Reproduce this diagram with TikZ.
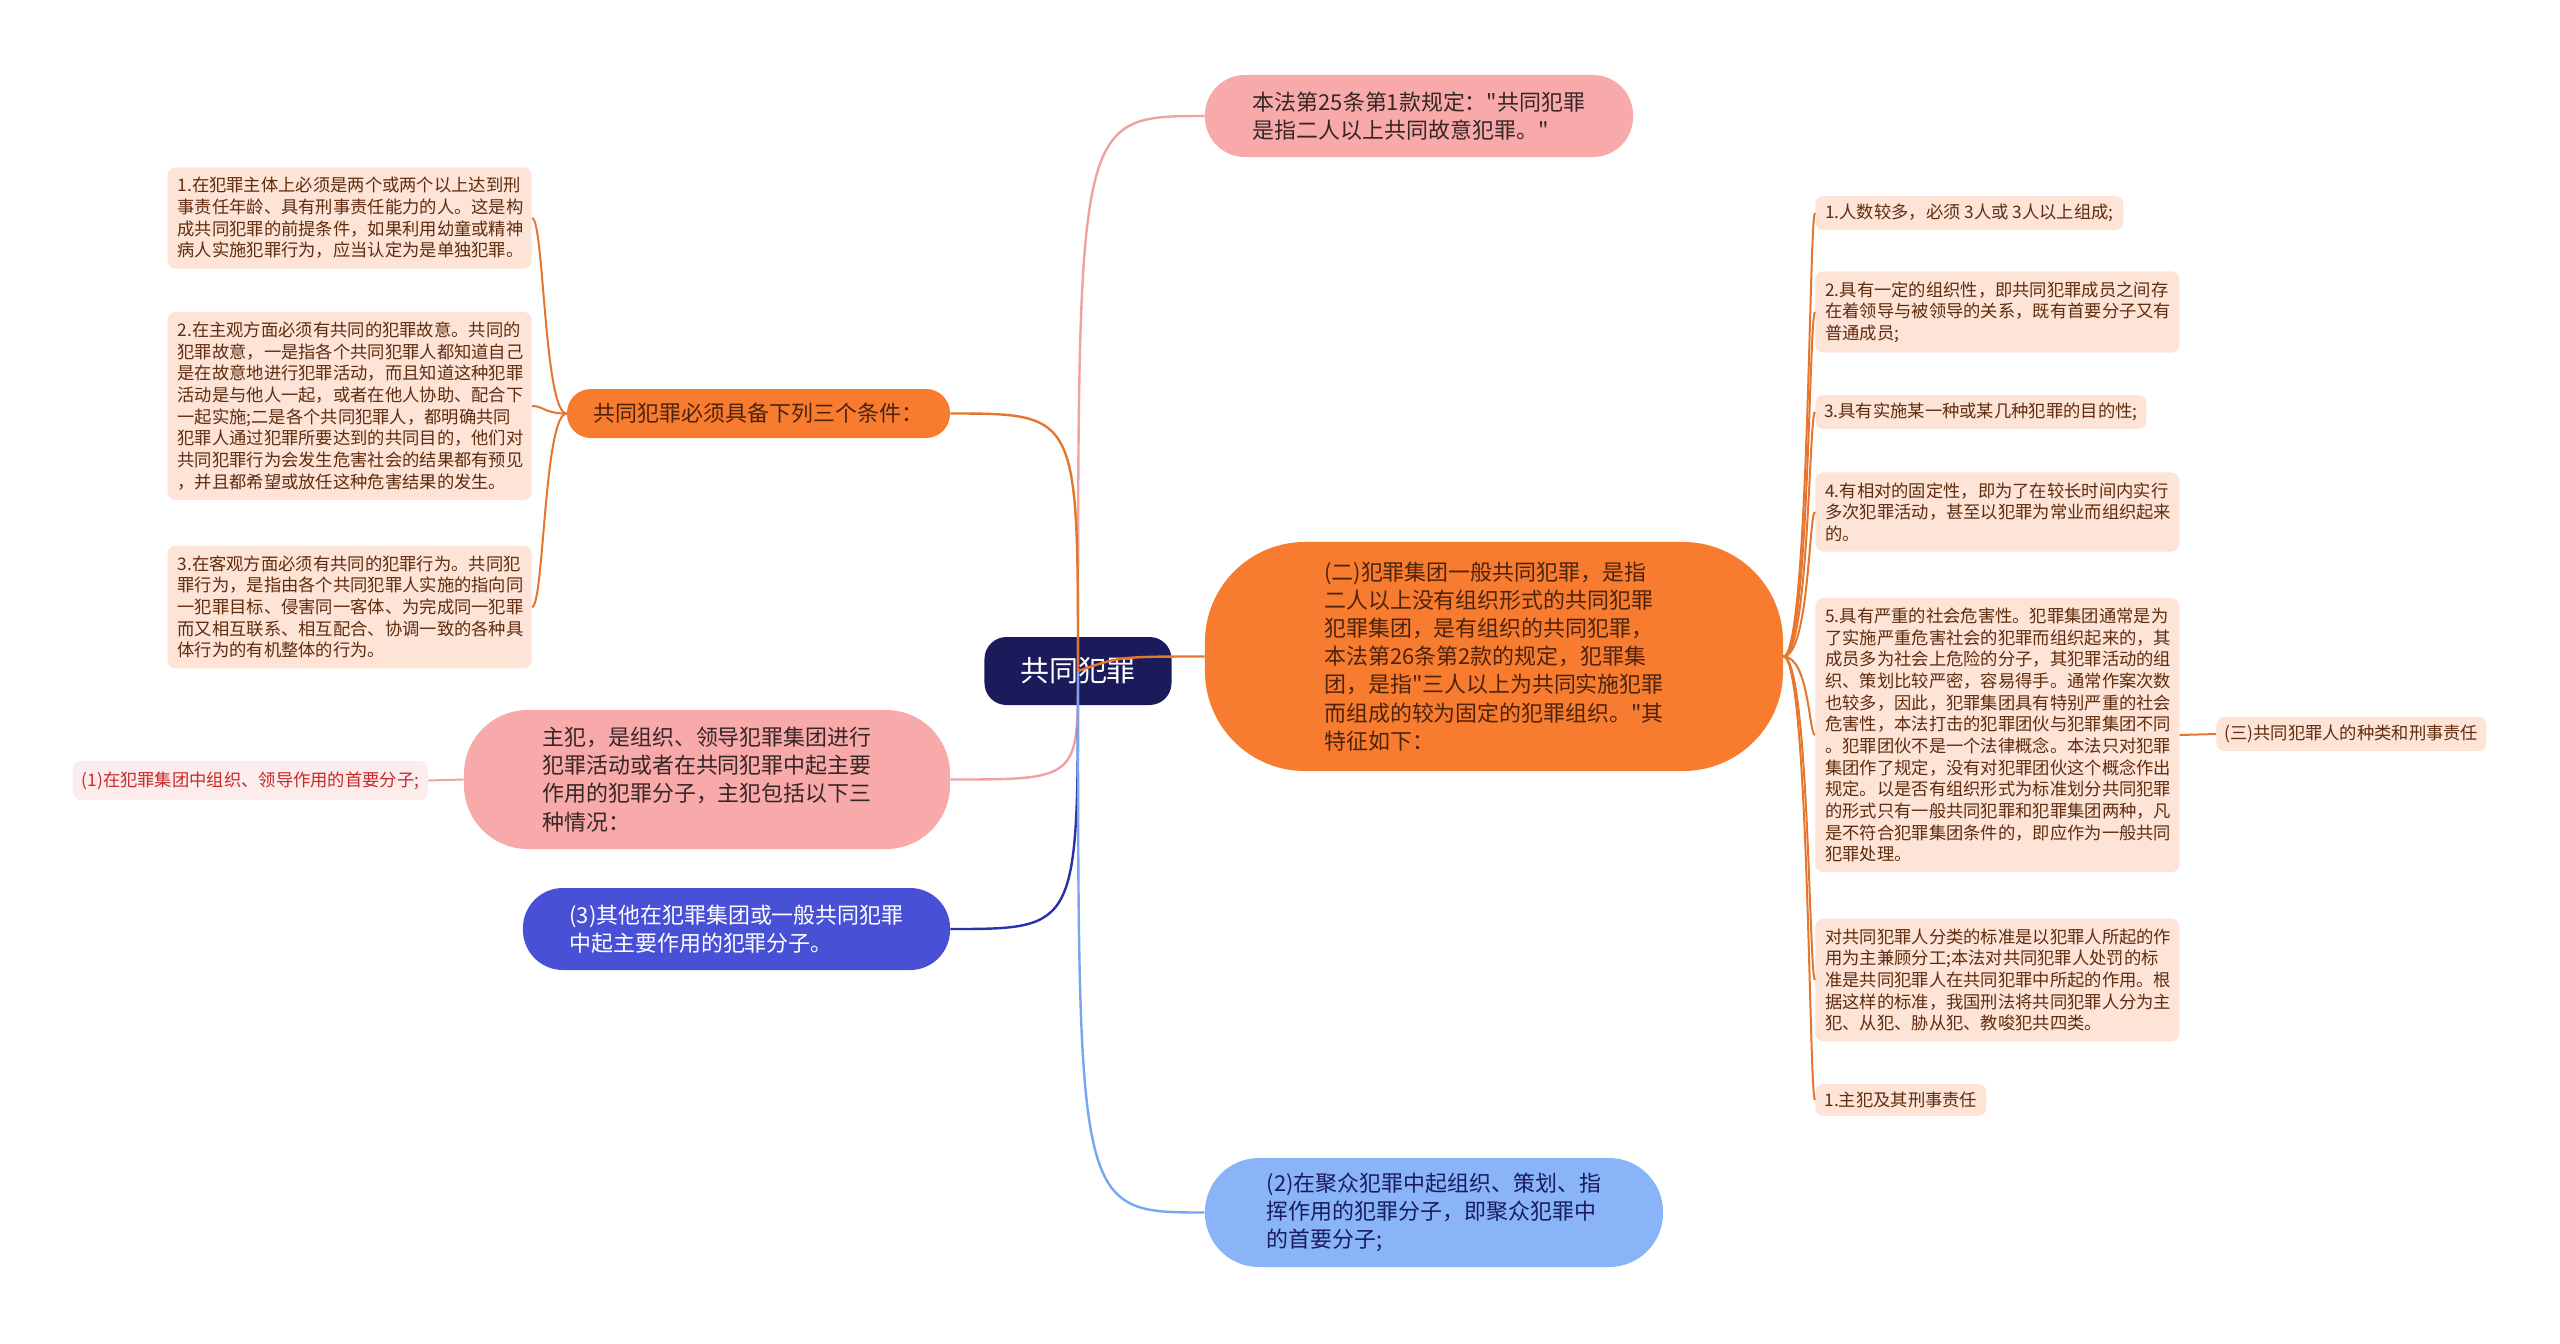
\documentclass[tikz,border=0pt]{standalone}
\usepackage{fontspec}
\setmainfont{Noto Sans CJK SC}[Ligatures=TeXOff]
\usepackage{tikz}
\usetikzlibrary{positioning}
\definecolor{mynavy}{RGB}{27,27,92}
\definecolor{mypink}{RGB}{248,170,170}
\definecolor{myorange}{RGB}{247,124,48}
\definecolor{mypeach}{RGB}{253,228,215}
\definecolor{mylpink}{RGB}{253,236,236}
\definecolor{myblue}{RGB}{72,80,214}
\definecolor{mylblue}{RGB}{138,180,248}
\definecolor{mybrown}{RGB}{96,44,14}
\definecolor{mydark}{RGB}{55,38,38}
\definecolor{myred}{RGB}{200,40,40}
\definecolor{lnpink}{RGB}{238,162,162}
\definecolor{lnorange}{RGB}{230,118,45}
\definecolor{lnblue}{RGB}{40,48,170}
\definecolor{lnlblue}{RGB}{120,165,240}
\tikzset{
  rootnode/.style={rectangle, fill=mynavy, text=white,
    font=\fontsize{20.6pt}{24pt}\selectfont, rounded corners=0.55cm,
    minimum width=4.675cm, minimum height=1.7cm, inner sep=0pt},
  bignode/.style={rectangle, align=left, inner sep=0pt,
    font=\fontsize{15.6pt}{20pt}\selectfont},
  leaf/.style={rectangle, fill=mypeach, text=mybrown, align=left,
    font=\fontsize{12.3pt}{15.4pt}\selectfont, rounded corners=0.2cm,
    inner sep=0.25cm},
  leafwide/.style={leaf, text width=8.6cm},
  mainline/.style={line width=0.06cm},
  subline/.style={line width=0.05cm, color=lnorange}
}
\begin{document}
\begin{tikzpicture}[x=0.025cm, y=-0.025cm]
  \useasboundingbox (0,0) rectangle (2560,1343);

  % Root
  \node[rootnode] (root) at (1078,671) {共同犯罪};

  % Main branches
  \node[bignode, fill=mypink, text=mydark, rounded corners=1cm,
    minimum width=10.7cm, minimum height=2.05cm] (law) at (1419,116)
    {本法第25条第1款规定："共同犯罪\\是指二人以上共同故意犯罪。"};
  \node[bignode, fill=myorange, text=mybrown!80!black, rounded corners=0.6cm,
    minimum width=9.575cm, minimum height=1.225cm] (cond) at (758.5,413.5)
    {共同犯罪必须具备下列三个条件：};
  \node[bignode, fill=mypink, text=mydark, rounded corners=1.6cm,
    minimum width=12.15cm, minimum height=3.475cm] (zf) at (707,779.5)
    {主犯，是组织、领导犯罪集团进行\\犯罪活动或者在共同犯罪中起主要\\作用的犯罪分子，主犯包括以下三\\种情况：};
  \node[bignode, fill=myblue, text=white, rounded corners=1cm,
    minimum width=10.675cm, minimum height=2.05cm] (qt) at (736.5,929)
    {(3)其他在犯罪集团或一般共同犯罪\\中起主要作用的犯罪分子。};
  \node[bignode, fill=mylblue, text=mynavy, rounded corners=1.35cm,
    minimum width=11.45cm, minimum height=2.725cm] (jz) at (1434,1212.5)
    {(2)在聚众犯罪中起组织、策划、指\\挥作用的犯罪分子，即聚众犯罪中\\的首要分子;};
  \node[bignode, fill=myorange, text=mybrown!80!black, rounded corners=2.5cm,
    minimum width=14.45cm, minimum height=5.725cm] (jt) at (1494,656.5)
    {(二)犯罪集团一般共同犯罪，是指\\二人以上没有组织形式的共同犯罪\\犯罪集团，是有组织的共同犯罪，\\本法第26条第2款的规定，犯罪集\\团，是指"三人以上为共同实施犯罪\\而组成的较为固定的犯罪组织。"其\\特征如下：};

  % Left leaves
  \node[leafwide, anchor=east] (l1) at (532,218)
    {1.在犯罪主体上必须是两个或两个以上达到刑\\事责任年龄、具有刑事责任能力的人。这是构\\成共同犯罪的前提条件，如果利用幼童或精神\\病人实施犯罪行为，应当认定为是单独犯罪。};
  \node[leafwide, anchor=east] (l2) at (532,406)
    {2.在主观方面必须有共同的犯罪故意。共同的\\犯罪故意，一是指各个共同犯罪人都知道自己\\是在故意地进行犯罪活动，而且知道这种犯罪\\活动是与他人一起，或者在他人协助、配合下\\一起实施;二是各个共同犯罪人，都明确共同\\犯罪人通过犯罪所要达到的共同目的，他们对\\共同犯罪行为会发生危害社会的结果都有预见\\，并且都希望或放任这种危害结果的发生。};
  \node[leafwide, anchor=east] (l3) at (532,607)
    {3.在客观方面必须有共同的犯罪行为。共同犯\\罪行为，是指由各个共同犯罪人实施的指向同\\一犯罪目标、侵害同一客体、为完成同一犯罪\\而又相互联系、相互配合、协调一致的各种具\\体行为的有机整体的行为。};
  \node[leaf, fill=mylpink, text=myred, minimum width=8.875cm,
    minimum height=0.975cm, inner sep=0pt] (zf1) at (250.5,780.5)
    {(1)在犯罪集团中组织、领导作用的首要分子;};

  % Right leaves
  \node[leaf, anchor=west, minimum width=7.7cm, inner sep=0.2cm] (r1) at (1815,213)
    {1.人数较多，必须 3人或 3人以上组成;};
  \node[leafwide, anchor=west] (r2) at (1815,312)
    {2.具有一定的组织性，即共同犯罪成员之间存\\在着领导与被领导的关系，既有首要分子又有\\普通成员;};
  \node[leaf, anchor=west, minimum width=8.275cm, inner sep=0.2cm] (r3) at (1815,412)
    {3.具有实施某一种或某几种犯罪的目的性;};
  \node[leafwide, anchor=west] (r4) at (1815,512)
    {4.有相对的固定性，即为了在较长时间内实行\\多次犯罪活动，甚至以犯罪为常业而组织起来\\的。};
  \node[leafwide, anchor=west] (r5) at (1815,735)
    {5.具有严重的社会危害性。犯罪集团通常是为\\了实施严重危害社会的犯罪而组织起来的，其\\成员多为社会上危险的分子，其犯罪活动的组\\织、策划比较严密，容易得手。通常作案次数\\也较多，因此，犯罪集团具有特别严重的社会\\危害性，本法打击的犯罪团伙与犯罪集团不同\\。犯罪团伙不是一个法律概念。本法只对犯罪\\集团作了规定，没有对犯罪团伙这个概念作出\\规定。以是否有组织形式为标准划分共同犯罪\\的形式只有一般共同犯罪和犯罪集团两种，凡\\是不符合犯罪集团条件的，即应作为一般共同\\犯罪处理。};
  \node[leafwide, anchor=west] (r6) at (1815,980)
    {对共同犯罪人分类的标准是以犯罪人所起的作\\用为主兼顾分工;本法对共同犯罪人处罚的标\\准是共同犯罪人在共同犯罪中所起的作用。根\\据这样的标准，我国刑法将共同犯罪人分为主\\犯、从犯、胁从犯、教唆犯共四类。};
  \node[leaf, anchor=west, minimum width=4.275cm, inner sep=0.2cm] (r7) at (1815,1100)
    {1.主犯及其刑事责任};
  \node[leaf, anchor=west, minimum width=6.75cm, inner sep=0.2cm] (r5c) at (2216,734)
    {(三)共同犯罪人的种类和刑事责任};

  % Main links
  \draw[mainline, color=lnpink] (root.center) .. controls (1078,116) .. (law.west);
  \draw[mainline, color=lnorange] (root.center) .. controls (1078,413.5) .. (cond.east);
  \draw[mainline, color=lnpink] (root.center) .. controls (1078,779.5) .. (zf.east);
  \draw[mainline, color=lnblue] (root.center) .. controls (1078,929) .. (qt.east);
  \draw[mainline, color=lnlblue] (root.center) .. controls (1078,1212.5) .. (jz.west);
  \draw[mainline, color=lnorange] (root.center) .. controls (1120,656.5) .. (jt.west);

  % Left links
  \foreach \leafname/\ly in {l1/218, l2/406, l3/607}
    \draw[subline] (cond.west) .. controls (544,413.5) and (544,\ly) .. (\leafname.east);
  \draw[subline, color=lnpink] (zf.west) -- (zf1.east);

  % Right links
  \foreach \leafname/\ry in {r1/213, r2/312, r3/412, r4/512, r5/735, r6/980, r7/1100}
    \draw[subline] (jt.east) .. controls (1809,656.5) and (1809,\ry) .. (\leafname.west);
  \draw[subline] (r5.east) -- (r5c.west);
\end{tikzpicture}
\end{document}
